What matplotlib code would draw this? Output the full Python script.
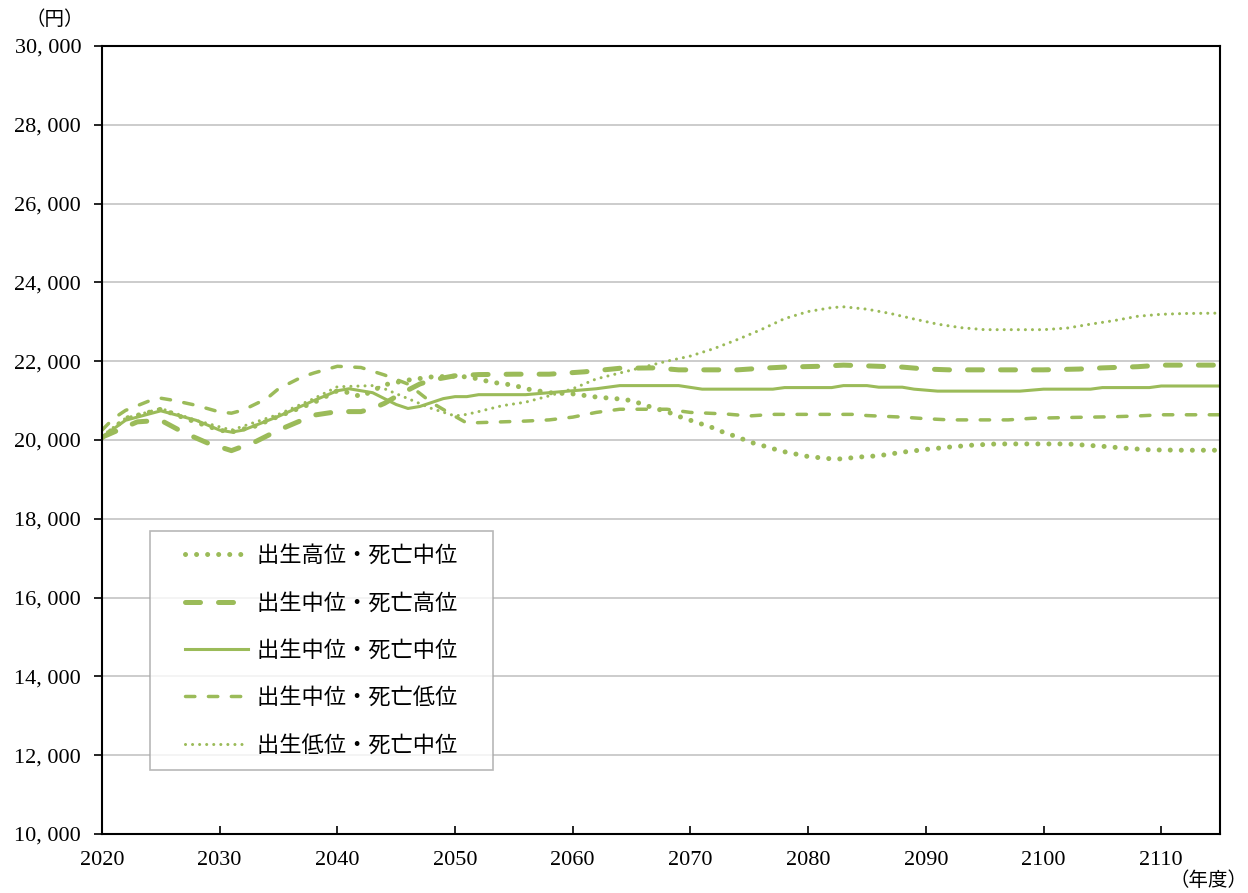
import matplotlib
matplotlib.use("Agg")
import matplotlib.pyplot as plt
from matplotlib.ticker import FuncFormatter
from matplotlib.legend_handler import HandlerLine2D

# data (yen, by fiscal year)
years_high_birth = [2020, 2022, 2025, 2028, 2030, 2031, 2033, 2035, 2038, 2040, 2041, 2042, 2044, 2046,
                    2048, 2050, 2051, 2052, 2053, 2055, 2056, 2058, 2060, 2062, 2064, 2065, 2066, 2067,
                    2068, 2069, 2070, 2071, 2072, 2073, 2074, 2075, 2076, 2077, 2078, 2079, 2080, 2081,
                    2082, 2083, 2084, 2086, 2088, 2090, 2092, 2094, 2096, 2102, 2105, 2107, 2109, 2112, 2115]
vals_high_birth = [20050, 20550, 20780, 20450, 20250, 20200, 20350, 20600, 20950, 21250, 21200, 21100, 21400, 21520,
                   21600, 21620, 21600, 21550, 21470, 21390, 21300, 21200, 21170, 21090, 21040, 21000, 20900, 20800,
                   20720, 20600, 20500, 20400, 20300, 20170, 20080, 19950, 19870, 19780, 19700, 19640, 19580, 19550,
                   19520, 19520, 19560, 19600, 19690, 19760, 19820, 19870, 19900, 19900, 19840, 19790, 19750, 19740, 19740]

years_high_death = [2020, 2021, 2023, 2025, 2027, 2029, 2031, 2033, 2035, 2038, 2040, 2042, 2043, 2044, 2045.5,
                    2047, 2048, 2050, 2052, 2055, 2058, 2061, 2064, 2067, 2069, 2074, 2076, 2078, 2081, 2083,
                    2085, 2088, 2090, 2092, 2100, 2103, 2105, 2108, 2110, 2115]
vals_high_death = [20070, 20200, 20460, 20500, 20180, 19920, 19730, 19950, 20250, 20630, 20720, 20720, 20800, 20930, 21190,
                   21420, 21520, 21630, 21660, 21670, 21670, 21730, 21820, 21830, 21780, 21780, 21820, 21850, 21870, 21900,
                   21880, 21850, 21800, 21780, 21780, 21800, 21830, 21860, 21900, 21900]

years_mid = [2020, 2022, 2025, 2028, 2030, 2031, 2032, 2035, 2038, 2040, 2041, 2043, 2044, 2045, 2046, 2047,
             2048, 2049, 2050, 2051, 2052, 2056, 2060, 2062, 2064, 2069, 2071, 2077, 2078, 2082, 2083, 2085,
             2086, 2088, 2089, 2091, 2098, 2100, 2104, 2105, 2109, 2110, 2115]
vals_mid = [20070, 20500, 20740, 20500, 20250, 20200, 20250, 20600, 21000, 21250, 21300, 21200, 21050, 20900, 20800, 20850,
            20950, 21050, 21100, 21100, 21150, 21150, 21250, 21300, 21380, 21380, 21290, 21290, 21330, 21330, 21380, 21380,
            21340, 21340, 21290, 21240, 21240, 21290, 21290, 21330, 21330, 21370, 21370]

years_low_death = [2020, 2021, 2022, 2024, 2025, 2026, 2028, 2030, 2031, 2032, 2034, 2035, 2037, 2038, 2040, 2042,
                   2044, 2046, 2048, 2050, 2051, 2053, 2056, 2058, 2060, 2062, 2064, 2068, 2070, 2073, 2075, 2077,
                   2084, 2085, 2088, 2090, 2092, 2097, 2099, 2102, 2106, 2108, 2110, 2115]
vals_low_death = [20250, 20550, 20750, 20990, 21060, 21010, 20880, 20710, 20680, 20760, 21050, 21300, 21600, 21700, 21870, 21840,
                  21650, 21420, 20950, 20600, 20430, 20450, 20480, 20510, 20580, 20700, 20780, 20780, 20700, 20660, 20610, 20650,
                  20650, 20620, 20580, 20540, 20510, 20510, 20550, 20570, 20590, 20610, 20640, 20640]

years_low_birth = [2020, 2022, 2025, 2028, 2031, 2035, 2038, 2040, 2043, 2044, 2046, 2048, 2050, 2051, 2052, 2054,
                   2056, 2058, 2060, 2062, 2064, 2066, 2068, 2070, 2072, 2074, 2076, 2078, 2080, 2082, 2083, 2085,
                   2087, 2089, 2091, 2093, 2095, 2100, 2102, 2104, 2106, 2108, 2110, 2112, 2115]
vals_low_birth = [20100, 20550, 20800, 20500, 20250, 20650, 21050, 21350, 21380, 21300, 21050, 20800, 20610, 20650, 20720, 20870,
                  20960, 21120, 21300, 21550, 21700, 21850, 22000, 22130, 22320, 22550, 22800, 23080, 23260, 23360, 23380, 23320,
                  23210, 23070, 22940, 22850, 22800, 22800, 22840, 22940, 23030, 23140, 23190, 23210, 23220]

labels = ["出生高位・死亡中位", "出生中位・死亡高位", "出生中位・死亡中位", "出生中位・死亡低位", "出生低位・死亡中位"]
x_ticks = list(range(2020, 2111, 10))
y_ticks = list(range(10000, 30001, 2000))

green = "#9BBB59"
cjk = ["Noto Sans CJK JP", "DejaVu Sans"]

fig = plt.figure(figsize=(12.48, 8.93), dpi=100)
ax = fig.add_axes([0.0817, 0.0661, 0.8959, 0.8824])

ax.plot(years_high_birth, vals_high_birth, color=green, lw=3.6, dashes=(0.01, 2.2),
        dash_capstyle="round", label=labels[0])
ax.plot(years_high_death, vals_high_death, color=green, lw=3.6, dashes=(3.0, 3.6),
        dash_capstyle="round", label=labels[1])
ax.plot(years_mid, vals_mid, color=green, lw=2.2, label=labels[2])
ax.plot(years_low_death, vals_low_death, color=green, lw=2.5, dashes=(2.7, 3.9),
        dash_capstyle="round", label=labels[3])
ax.plot(years_low_birth, vals_low_birth, color=green, lw=2.2, dashes=(0.01, 2.3),
        dash_capstyle="round", label=labels[4])

ax.set_xlim(2020, 2115)
ax.set_ylim(10000, 30000)
ax.set_xticks(x_ticks)
ax.set_yticks(y_ticks)
ax.yaxis.set_major_formatter(FuncFormatter(lambda v, p: f"{int(v):,}".replace(",", ", ")))
ax.grid(axis="y", color="#BFBFBF", lw=1.1)
ax.set_axisbelow(True)

for s in ax.spines.values():
    s.set_color("black")
    s.set_linewidth(1.5)
ax.tick_params(axis="x", direction="in", length=6, width=1.2, pad=12)
ax.tick_params(axis="y", direction="out", length=6, width=1.2, pad=9)
for t in ax.get_xticklabels() + ax.get_yticklabels():
    t.set_fontfamily("Liberation Serif")
    t.set_fontsize(16)

fig.text(0.044, 0.978, "（円）", fontsize=14, family=cjk, ha="center", va="center")
fig.text(0.968, 0.014, "（年度）", fontsize=14, family=cjk, ha="center", va="center")

handles, _ = ax.get_legend_handles_labels()
leg = ax.legend(handles, [l + "\u3000" for l in labels], loc="upper left",
                bbox_to_anchor=(0.043, 0.385), fancybox=False,
                prop={"family": cjk, "size": 16},
                handler_map={h: HandlerLine2D(xpad=0.98) for h in handles},
                handlelength=3.82, handletextpad=0.4, labelspacing=1.1,
                borderpad=0.6, borderaxespad=0)
leg.get_frame().set_edgecolor("#A6A6A6")
leg.get_frame().set_linewidth(1.2)

fig.savefig("out.png", dpi=100)
